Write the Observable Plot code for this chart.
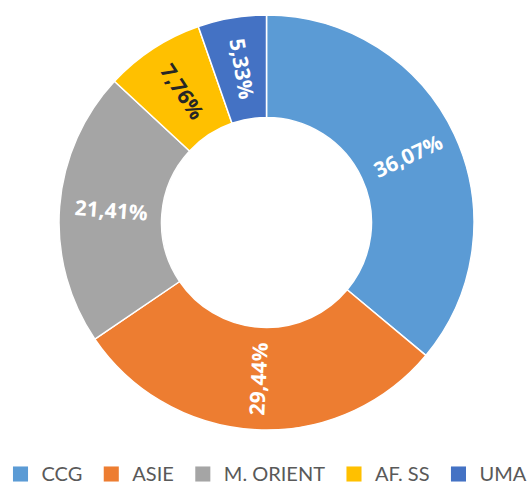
<!DOCTYPE html>
<html><head><meta charset="utf-8">
<script src="https://cdn.jsdelivr.net/npm/d3@7"></script>
<script src="https://cdn.jsdelivr.net/npm/@observablehq/plot@0.6"></script>
<style>html,body{margin:0;padding:0;background:#fff}</style>
</head><body><div id="chart"></div>
<script>
// ---- data ----
const regions = ["CCG", "ASIE", "M. ORIENT", "AF. SS", "UMA"];
const shares = [36.07, 29.44, 21.41, 7.76, 5.33];
const shareLabels = ["36,07%", "29,44%", "21,41%", "7,76%", "5,33%"];
const colors = ["#5B9BD5", "#ED7D31", "#A5A5A5", "#FFC000", "#4472C4"];
const labelColors = ["#ffffff", "#ffffff", "#ffffff", "#262626", "#ffffff"];

// ---- layout ----
const W = 532, H = 484;
const cx = 266.5, cy = 222.5, R = 207.5, R0 = 105;
const labelFont = "'Open Sans', sans-serif";
const legendFont = "Lato, 'Open Sans', sans-serif";
const legendSize = 20;

const data = regions.map((region, i) => ({region, share: shares[i], label: shareLabels[i], labelColor: labelColors[i]}));
const arcs = d3.pie().sort(null).value(d => d.share)(data);
const rMid = (R + R0) / 2;
const labelData = arcs.map(a => {
  const t = (a.startAngle + a.endAngle) / 2;
  const deg = t * 180 / Math.PI;
  return {
    ...a.data,
    x: cx + rMid * Math.sin(t),
    y: cy - rMid * Math.cos(t),
    rotate: deg <= 180 ? deg - 90 : deg - 270
  };
});

// legend layout from measured text widths
const ctx = document.createElement("canvas").getContext("2d");
ctx.font = `${legendSize}px ${legendFont}`;
let lx = 12;
const legendData = regions.map(region => {
  const item = {region, sx: lx + 8, tx: lx + 29};
  lx = item.tx + ctx.measureText(region).width + 21;
  return item;
});
const legendY = 473.5;

const slices = (index, scales) => {
  const color = scales.color || d3.scaleOrdinal(regions, colors);
  const arc = d3.arc().innerRadius(R0).outerRadius(R);
  const g = d3.create("svg:g").attr("transform", `translate(${cx},${cy})`);
  g.selectAll("path").data(arcs).join("path")
    .attr("d", arc)
    .attr("fill", d => color(d.data.region))
    .attr("stroke", "#fff")
    .attr("stroke-width", 1.5)
    .attr("stroke-linejoin", "round");
  return g.node();
};

const chart = Plot.plot({
  width: W, height: H,
  margin: 0,
  x: {type: "identity", axis: null},
  y: {type: "identity", axis: null},
  color: {domain: regions, range: colors},
  style: {background: "#fff", overflow: "visible"},
  marks: [
    slices,
    Plot.text(labelData, {
      x: "x", y: "y", text: "label", rotate: "rotate",
      fill: "labelColor", fontSize: 21, fontWeight: "bold",
      fontFamily: labelFont, textAnchor: "middle", lineAnchor: "middle"
    }),
    Plot.dot(legendData, {x: "sx", y: () => legendY, symbol: "square", r: 8.5, fill: "region", stroke: null}),
    Plot.text(legendData, {
      x: "tx", y: () => legendY + 1, text: "region", textAnchor: "start", lineAnchor: "middle",
      fill: "#595959", fontSize: legendSize, fontFamily: legendFont
    })
  ]
});
document.getElementById("chart").append(chart);
</script>
</body></html>
